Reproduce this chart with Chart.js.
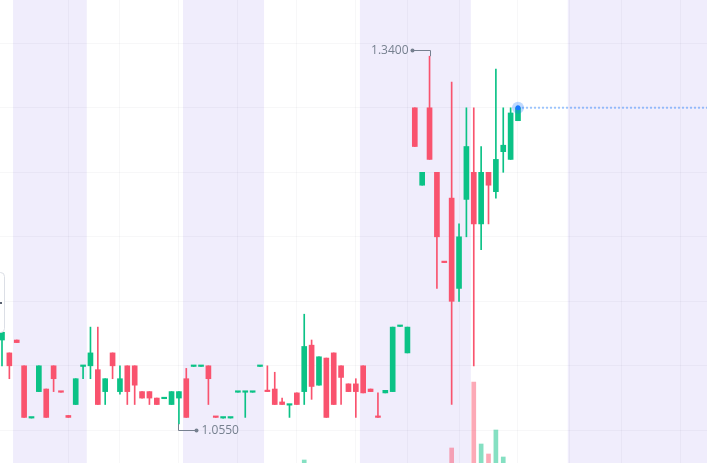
<!DOCTYPE html>
<html>
<head>
<meta charset="utf-8">
<script src="https://cdn.jsdelivr.net/npm/chart.js@4.4.1/dist/chart.umd.min.js"></script>
<style>
  html, body { margin: 0; padding: 0; background: #fff; }
  canvas { display: block; }
</style>
</head>
<body>
<canvas id="kline" width="707" height="463"></canvas>
<script>
// candles, one per bar index (0..70)
let opens = [
  1.12, 1.11, 1.12, 1.10, 1.0595, 1.08, 1.082, 1.10, 1.08, 1.0615,
  1.07, 1.0995, 1.10, 1.097, 1.08, 1.11, 1.08, 1.10, 1.10, 1.08,
  1.08, 1.075, 1.0745, 1.07, 1.075, 1.09, 1.0995, 1.0995, 1.10, 1.0605,
  1.0595, 1.0595, 1.0795, 1.0795, 1.0795, 1.0995, 1.0805, 1.082, 1.072, 1.0695,
  1.079, 1.08, 1.116, 1.085, 1.106, 1.11, 1.10, 1.086, 1.086, 1.10,
  1.082, 1.0605, 1.079, 1.08, 1.1305, 1.11, 1.30, 1.24, 1.30, 1.25,
  1.1805, 1.23, 1.16, 1.229, 1.25, 1.21, 1.25, 1.235, 1.266, 1.26,
  1.29
];
let highs = [
  1.126, 1.11, 1.12, 1.10, 1.06, 1.10, 1.082, 1.10, 1.08, 1.0615,
  1.09, 1.10, 1.13, 1.13, 1.09, 1.11, 1.10, 1.10, 1.10, 1.08,
  1.08, 1.075, 1.075, 1.08, 1.08, 1.098, 1.10, 1.10, 1.10, 1.0605,
  1.06, 1.06, 1.08, 1.08, 1.08, 1.10, 1.10, 1.095, 1.075, 1.07,
  1.079, 1.14, 1.12, 1.107, 1.106, 1.11, 1.10, 1.086, 1.09, 1.10,
  1.082, 1.079, 1.081, 1.13, 1.131, 1.13, 1.30, 1.25, 1.34, 1.25,
  1.1805, 1.32, 1.21, 1.30, 1.30, 1.27, 1.25, 1.33, 1.30, 1.30,
  1.30
];
let lows = [
  1.10, 1.09, 1.118, 1.06, 1.0595, 1.08, 1.06, 1.08, 1.0795, 1.06,
  1.07, 1.09, 1.09, 1.07, 1.07, 1.09, 1.078, 1.07, 1.07, 1.075,
  1.07, 1.07, 1.0745, 1.07, 1.055, 1.06, 1.0995, 1.0995, 1.07, 1.06,
  1.0595, 1.0595, 1.0795, 1.06, 1.0795, 1.0995, 1.08, 1.07, 1.07, 1.06,
  1.07, 1.07, 1.074, 1.085, 1.06, 1.07, 1.07, 1.08, 1.06, 1.079,
  1.08, 1.06, 1.079, 1.08, 1.1305, 1.11, 1.27, 1.24, 1.26, 1.16,
  1.18, 1.07, 1.15, 1.20, 1.10, 1.19, 1.21, 1.23, 1.25, 1.26,
  1.29
];
let closes = [
  1.126, 1.10, 1.118, 1.06, 1.06, 1.10, 1.06, 1.09, 1.0795, 1.06,
  1.09, 1.10, 1.11, 1.07, 1.09, 1.10, 1.09, 1.08, 1.085, 1.075,
  1.075, 1.07, 1.075, 1.08, 1.08, 1.06, 1.10, 1.10, 1.09, 1.06,
  1.06, 1.06, 1.08, 1.08, 1.08, 1.10, 1.08, 1.07, 1.07, 1.07,
  1.07, 1.115, 1.084, 1.107, 1.06, 1.07, 1.091, 1.08, 1.08, 1.079,
  1.08, 1.06, 1.081, 1.13, 1.131, 1.13, 1.27, 1.25, 1.26, 1.20,
  1.18, 1.15, 1.20, 1.27, 1.21, 1.25, 1.24, 1.26, 1.271, 1.296,
  1.30
];
let volumes = [
  2600, 3100, 1400, 4200, 900, 3300, 3600, 2400, 800, 1100,
  3000, 1500, 3800, 4100, 2200, 2500, 2300, 3400, 3000, 1600,
  1700, 1400, 800, 2100, 3900, 4500, 900, 1000, 2900, 800,
  700, 900, 1000, 2700, 900, 1200, 2600, 2800, 1300, 2100,
  2000, 6000, 5200, 3700, 5100, 4900, 3200, 1800, 3500, 3300,
  1200, 2600, 1100, 5400, 1200, 3500, 4800, 2400, 5500, 5300,
  1900, 7200, 5000, 5600, 13800, 7600, 6600, 9000, 6300, 4700,
  3100
];

// vertical grid lines (bar index) and horizontal grid lines (price)
let timeTicks = [9, 16, 24, 32, 40, 48, 55, 62, 70, 77, 84, 92];
let priceTicks = [1.05, 1.10, 1.15, 1.20, 1.25, 1.30, 1.35];
// shaded sessions, from/to in bar index
let sessions = [[1.5, 11.5], [24.55, 35.55], [48.55, 63.6], [76.75, 97]];

const upColor = "#0BC286";
const downColor = "#F9536E";
const markColor = "#76808F";
const gridColor = "rgba(20, 20, 60, 0.035)";

let isUp = closes.map((c, i) => c >= opens[i]);
let candleColors = isUp.map((u) => (u ? upColor : downColor));
let volColors = isUp.map((u) => (u ? "rgba(11, 194, 134, 0.5)" : "rgba(249, 83, 110, 0.5)"));

let bodyData = opens.map((o, i) => ({ x: i, y: [o, closes[i]] }));
let wickData = lows.map((l, i) => ({ x: i, y: [l, highs[i]] }));
let volData = volumes.map((v, i) => ({ x: i, y: v }));
let last = closes.length - 1;
let lastPrice = closes[last];

const bgPlugin = {
  id: "sessionBands",
  beforeDraw(chart) {
    const { ctx, chartArea, scales } = chart;
    ctx.save();
    ctx.fillStyle = "#ffffff";
    ctx.fillRect(0, 0, chart.width, chart.height);
    ctx.fillStyle = "#F0EDFC";
    for (let s of sessions) {
      let x1 = scales.x.getPixelForValue(s[0]);
      let x2 = scales.x.getPixelForValue(s[1]);
      ctx.fillRect(x1, chartArea.top, x2 - x1, chartArea.bottom - chartArea.top);
    }
    ctx.restore();
  },
};

const markPlugin = {
  id: "hiLoMarks",
  afterDatasetsDraw(chart) {
    const { ctx, scales } = chart;
    let hi = Math.max(...highs);
    let lo = Math.min(...lows);
    let hiIdx = highs.indexOf(hi);
    let loIdx = lows.indexOf(lo);
    ctx.save();
    ctx.strokeStyle = markColor;
    ctx.fillStyle = markColor;
    ctx.lineWidth = 1;
    ctx.font = "12px 'Open Sans', 'Liberation Sans', Arial, sans-serif";
    ctx.textBaseline = "middle";

    // highest price, pointing left
    let px = Math.round(scales.x.getPixelForValue(hiIdx)) + 0.5;
    let py = scales.y.getPixelForValue(hi);
    let cy = Math.round(py - 6) + 0.5;
    ctx.beginPath();
    ctx.moveTo(px, py);
    ctx.lineTo(px, cy);
    ctx.lineTo(px - 18, cy);
    ctx.stroke();
    ctx.beginPath();
    ctx.arc(px - 18, cy, 2, 0, Math.PI * 2);
    ctx.fill();
    ctx.textAlign = "right";
    ctx.fillText(hi.toFixed(4), px - 22, cy);

    // lowest price, pointing right
    px = Math.round(scales.x.getPixelForValue(loIdx)) - 0.5;
    py = scales.y.getPixelForValue(lo);
    cy = Math.round(py + 6) + 0.5;
    ctx.beginPath();
    ctx.moveTo(px, py);
    ctx.lineTo(px, cy);
    ctx.lineTo(px + 18, cy);
    ctx.stroke();
    ctx.beginPath();
    ctx.arc(px + 18, cy, 2, 0, Math.PI * 2);
    ctx.fill();
    ctx.textAlign = "left";
    ctx.fillText(lo.toFixed(4), px + 23, cy);

    // edge of the info box cut off at the left border
    ctx.strokeStyle = "#DCDFE6";
    ctx.fillStyle = "#ffffff";
    ctx.beginPath();
    ctx.roundRect(-70.5, 272.5, 75, 60, 4);
    ctx.fill();
    ctx.stroke();
    ctx.fillStyle = "#5A6170";
    ctx.fillRect(0, 302, 2, 2);
    ctx.restore();
  },
};

let ctx = document.getElementById("kline").getContext("2d");
let myChart = new Chart(ctx, {
  type: "bar",
  data: {
    datasets: [
      {
        type: "line",
        data: [{ x: last, y: lastPrice }],
        pointRadius: 2.5,
        pointBackgroundColor: "#1677FF",
        pointBorderWidth: 0,
        showLine: false,
      },
      {
        type: "line",
        data: [{ x: last, y: lastPrice }],
        pointRadius: 6,
        pointBackgroundColor: "rgba(22, 119, 255, 0.28)",
        pointBorderWidth: 0,
        showLine: false,
      },
      {
        type: "line",
        data: [{ x: last, y: lastPrice }, { x: 97, y: lastPrice }],
        borderColor: "rgba(22, 119, 255, 0.4)",
        borderWidth: 2,
        borderDash: [2, 2],
        pointRadius: 0,
      },
      {
        data: bodyData,
        backgroundColor: candleColors,
        grouped: false,
        categoryPercentage: 1,
        barPercentage: 1,
        maxBarThickness: 5,
        minBarLength: 1.5,
      },
      {
        data: wickData,
        backgroundColor: candleColors,
        grouped: false,
        categoryPercentage: 1,
        barPercentage: 1,
        maxBarThickness: 1,
      },
      {
        data: volData,
        yAxisID: "vol",
        backgroundColor: volColors,
        grouped: false,
        categoryPercentage: 1,
        barPercentage: 1,
        maxBarThickness: 4,
      },
    ],
  },
  options: {
    responsive: false,
    devicePixelRatio: 1,
    animation: false,
    layout: { padding: 0, autoPadding: false },
    plugins: {
      legend: { display: false },
      tooltip: { enabled: false },
    },
    scales: {
      x: {
        type: "linear",
        min: -0.2713,
        max: 95.64,
        offset: false,
        grid: { color: gridColor, drawTicks: false, offset: false },
        border: { display: false },
        ticks: { display: false },
        afterBuildTicks: (scale) => {
          scale.ticks = timeTicks.map((v) => ({ value: v }));
        },
      },
      y: {
        type: "linear",
        min: 1.02466,
        max: 1.38357,
        beginAtZero: false,
        grid: { color: gridColor, drawTicks: false },
        border: { display: false },
        ticks: { display: false },
        afterBuildTicks: (scale) => {
          scale.ticks = priceTicks.map((v) => ({ value: v }));
        },
      },
      vol: {
        type: "linear",
        display: false,
        min: 5700,
        max: 52000,
      },
    },
  },
  plugins: [bgPlugin, markPlugin],
});
</script>
</body>
</html>
